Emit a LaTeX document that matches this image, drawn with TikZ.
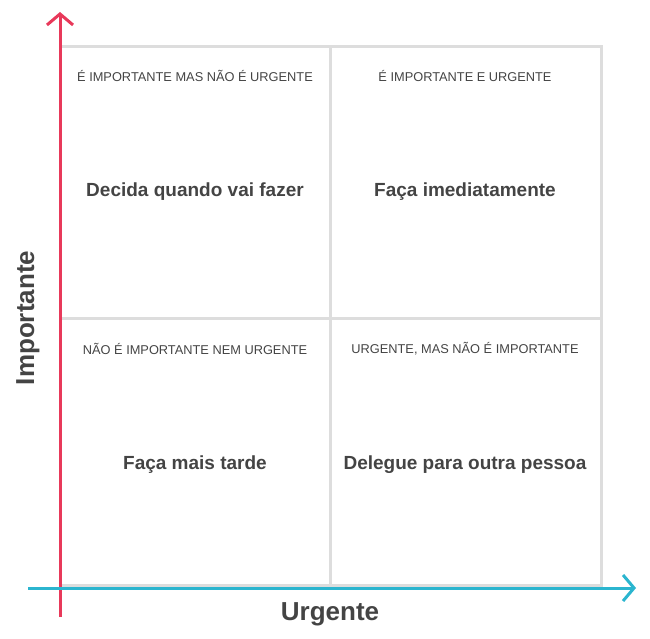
\documentclass[tikz,border=0pt]{standalone}
\usepackage{fontspec}
\setmainfont{Liberation Sans}
\usetikzlibrary{arrows.meta}
\definecolor{axisred}{HTML}{E8395A}
\definecolor{axisblue}{HTML}{2BB5CF}
\definecolor{gridgray}{HTML}{DDDDDD}
\definecolor{textgray}{HTML}{444444}
\begin{document}
\begin{tikzpicture}[x=1pt,y=-1pt]

		\tikzstyle{cell}=[draw=gridgray,line width=3pt]
		\tikzstyle{caption}=[text=textgray,font=\fontsize{12.8}{15}\selectfont,anchor=center]
		\tikzstyle{action}=[text=textgray,font=\bfseries\fontsize{19}{22}\selectfont,anchor=center]
		\tikzstyle{axis}=[line width=3pt,-{Straight Barb[length=11pt,width=26pt,line width=3pt]}]

		\useasboundingbox (0,0) rectangle (650,639);

		\draw[cell] (60,47) rectangle (601,585);
		\draw[cell] (330,47) -- (330,585);
		\draw[cell] (60,318) -- (601,318);

		\node[caption]	(capTL)	at (195,76)	{É IMPORTANTE MAS NÃO É URGENTE};
		\node[caption]	(capTR)	at (465,76)	{É IMPORTANTE E URGENTE};
		\node[caption]	(capBL)	at (195,349)	{NÃO É IMPORTANTE NEM URGENTE};
		\node[caption]	(capBR)	at (465,349)	{URGENTE, MAS NÃO É IMPORTANTE};

		\node[action]	(actTL)	at (195,192)	{Decida quando vai fazer};
		\node[action]	(actTR)	at (465,192)	{Faça imediatamente};
		\node[action]	(actBL)	at (195,465)	{Faça mais tarde};
		\node[action]	(actBR)	at (465,465)	{Delegue para outra pessoa};

		\coordinate (yfrom) at (60,617);
		\coordinate (yto) at (60,12);
		\coordinate (xfrom) at (28,588);
		\coordinate (xto) at (636,588);
		\draw[axis,axisred] (yfrom) -- (yto);
		\draw[axis,axisblue] (xfrom) -- (xto);

		\node[text=textgray,font=\bfseries\fontsize{26}{30}\selectfont,rotate=90] (important) at (28,318) {Importante};
		\node[text=textgray,font=\bfseries\fontsize{26}{30}\selectfont] (urgent) at (330,614) {Urgente};

	\end{tikzpicture}
\end{document}
